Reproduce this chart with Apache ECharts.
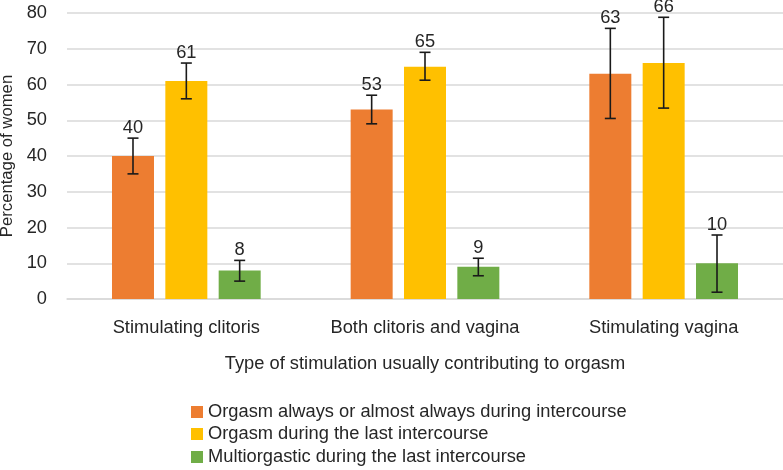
<!DOCTYPE html>
<html>
<head>
<meta charset="utf-8">
<script src="https://cdn.jsdelivr.net/npm/echarts@6/dist/echarts.min.js"></script>
<style>html,body{margin:0;padding:0;background:#fff}#c{width:783px;height:470px}</style>
</head>
<body>
<div id="c"></div>
<script>
var categories = ['Stimulating clitoris', 'Both clitoris and vagina', 'Stimulating vagina'];
var seriesNames = ['Orgasm always or almost always during intercourse', 'Orgasm during the last intercourse', 'Multiorgastic during the last intercourse'];
var alwaysValues = [40, 53, 63];
var lastValues = [61, 65, 66];
var multiValues = [8, 9, 10];
var alwaysLow = [35, 49, 50.5];
var alwaysHigh = [45, 57, 75.7];
var lastLow = [56, 61.2, 53.4];
var lastHigh = [66, 69, 78.8];
var multiLow = [5, 6.5, 1.9];
var multiHigh = [10.8, 11.4, 17.9];
var yTicks = [0, 10, 20, 30, 40, 50, 60, 70, 80];

var colors = ['#ED7D31', '#FFC000', '#70AD47'];
var FONT = 'Liberation Sans, Arial, sans-serif';
var TXT = '#262626';
var FS = 18.3;
var BW = 42, GAP = 0.27;

var values = [alwaysValues, lastValues, multiValues];
var lows = [alwaysLow, lastLow, multiLow];
var highs = [alwaysHigh, lastHigh, multiHigh];

function errSeries(k) {
  var data = categories.map(function (c, i) { return [i, lows[k][i], highs[k][i], values[k][i]]; });
  return {
    type: 'custom',
    name: 'err' + k,
    z: 10,
    silent: true,
    data: data,
    encode: { x: 0, y: [1, 2] },
    renderItem: function (params, api) {
      var ci = api.value(0);
      var lo = api.coord([ci, api.value(1)]);
      var hi = api.coord([ci, api.value(2)]);
      var x = lo[0] + (k - 1) * BW * (1 + GAP);
      var cap = 5.5;
      var st = { stroke: '#1a1a1a', lineWidth: 1.6 };
      return {
        type: 'group',
        children: [
          { type: 'line', shape: { x1: x, y1: lo[1], x2: x, y2: hi[1] }, style: st },
          { type: 'line', shape: { x1: x - cap, y1: lo[1], x2: x + cap, y2: lo[1] }, style: st },
          { type: 'line', shape: { x1: x - cap, y1: hi[1], x2: x + cap, y2: hi[1] }, style: st },
          { type: 'text', style: { x: x, y: hi[1] - 1, text: String(api.value(3)), textAlign: 'center', textVerticalAlign: 'bottom', fill: TXT, font: FS + 'px ' + FONT } }
        ]
      };
    }
  };
}

var series = [];
for (var k = 0; k < 3; k++) {
  series.push({
    type: 'bar',
    name: seriesNames[k],
    data: values[k],
    barWidth: BW,
    barGap: (GAP * 100) + '%',
    itemStyle: { color: colors[k] }
  });
}
for (var k2 = 0; k2 < 3; k2++) series.push(errSeries(k2));

var legendTops = [403, 425, 448];
var legends = seriesNames.map(function (n, i) {
  return {
    data: [n],
    left: 191,
    top: legendTops[i],
    padding: 0,
    itemWidth: 12,
    itemHeight: 12,
    itemGap: 6,
    icon: 'rect',
    textStyle: { fontSize: FS, color: TXT, fontFamily: FONT }
  };
});

var chart = echarts.init(document.getElementById('c'), null, { renderer: 'canvas' });
chart.setOption({
  animation: false,
  textStyle: { fontFamily: FONT, color: TXT },
  grid: { left: 67, right: 0, top: 13, bottom: 171, containLabel: false, outerBoundsMode: 'none' },
  legend: legends,
  xAxis: {
    type: 'category',
    data: categories,
    axisLine: { lineStyle: { color: '#D9D9D9', width: 1.5 } },
    axisTick: { show: false },
    axisLabel: { fontSize: FS, color: TXT, margin: 20, interval: 0, hideOverlap: false },
    name: 'Type of stimulation usually contributing to orgasm',
    nameLocation: 'middle',
    nameGap: 56,
    nameTextStyle: { fontSize: FS, color: TXT }
  },
  yAxis: {
    type: 'value',
    min: yTicks[0],
    max: yTicks[yTicks.length - 1],
    interval: 10,
    axisLine: { show: false },
    axisTick: { show: false },
    splitLine: { lineStyle: { color: '#D9D9D9', width: 1.5 } },
    axisLabel: { fontSize: FS, color: TXT, margin: 20 },
    name: 'Percentage of women',
    nameLocation: 'middle',
    nameGap: 37,
    nameTextStyle: { fontSize: 16.7, color: TXT }
  },
  series: series
});
</script>
</body>
</html>
